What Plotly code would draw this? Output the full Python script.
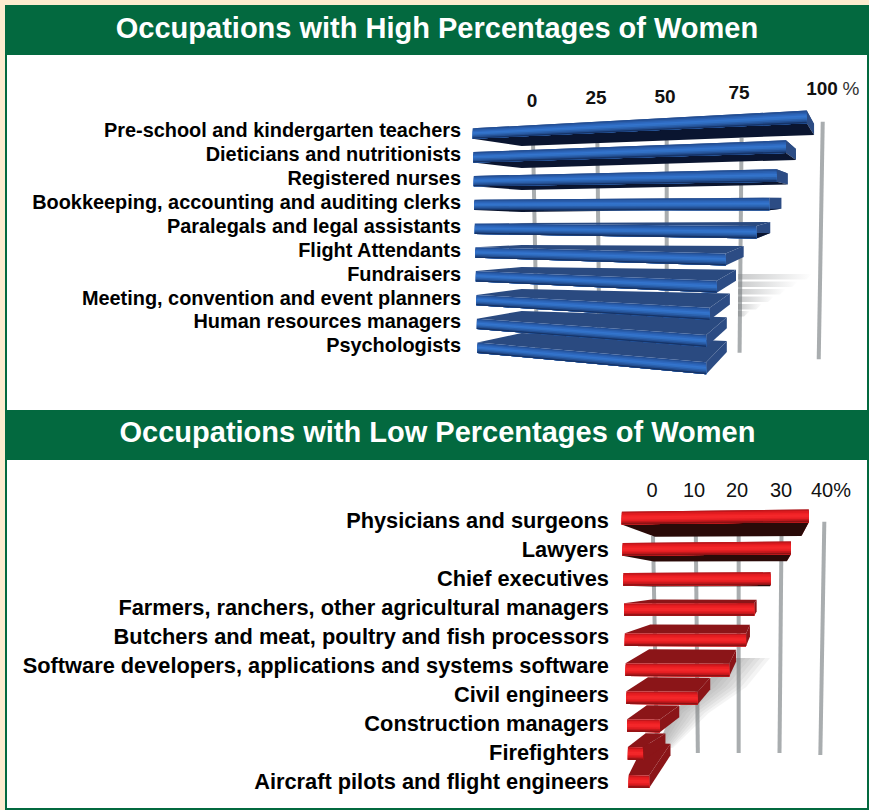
import numpy as np
import plotly.graph_objects as go

# data
high_jobs = ["Pre-school and kindergarten teachers", "Dieticians and nutritionists", "Registered nurses",
             "Bookkeeping, accounting and auditing clerks", "Paralegals and legal assistants", "Flight Attendants",
             "Fundraisers", "Meeting, convention and event planners", "Human resources managers", "Psychologists"]
high_pct = [98, 92.5, 90, 88, 84.5, 76, 73.5, 71.5, 70.5, 70.5]
high_ticks = [0, 25, 50, 75, 100]

low_jobs = ["Physicians and surgeons", "Lawyers", "Chief executives", "Farmers, ranchers, other agricultural managers",
            "Butchers and meat, poultry and fish processors", "Software developers, applications and systems software",
            "Civil engineers", "Construction managers", "Firefighters", "Aircraft pilots and flight engineers"]
low_pct = [35, 31.5, 27.5, 24.3, 22.7, 19.4, 13.2, 5.8, 2.5, 3.7]
low_ticks = [0, 10, 20, 30, 40]

titles = ["Occupations with High Percentages of Women", "Occupations with Low Percentages of Women"]

GREEN = "#03693f"
CREAM = "#fdebce"
FONT = "Liberation Sans"


# perspective for each panel: value + row -> page position
class HighView:
    shade = ["#234f96", "#2a5eac", "#2e69bf", "#3474cc", "#3170c4", "#2b60ac", "#234f92", "#163468"]
    top, cap, under = "#2a4a80", "#2c4c84", "#0a1530"

    def back_x(self, v):
        return 535 + 2.443 * v / (1 - 0.00145 * v)

    def front_x(self, v):
        return self.back_x(v) - 20.67 + 0.4848 * (v - 70.5)

    def left(self, i):
        return 472.7 + 0.52 * i, 521.7

    def front_top(self, i, x):
        return 128.3 + 23.8 * i + (-0.053 + 0.0155 * i) * (x - self.left(i)[0])

    def front_h(self, i, x):
        return 10.4 + 0.007 * (x - self.left(i)[0])

    def back_bottom(self, i, x):
        return 146 + 22 * i + (-0.038 + 0.0085 * i) * (x - self.left(i)[1])

    back_h = 11

    def lean(self, v):
        return 0.04 * (v - 50)


class LowView:
    shade = ["#c2161b", "#e01c20", "#ee2024", "#f4282a", "#f2262a", "#e41e22", "#c4181c", "#8e1214"]
    top, cap, under = "#8b1518", "#8b1518", "#2a0a08"

    def back_x(self, v):
        return 655 + 4.183 * v

    def front_x(self, v):
        return 630.3 + 5.1 * v

    def left(self, i):
        return 621.7 + 0.77 * i, 655 - 1.17 * i

    def front_top(self, i, x):
        return np.interp(i, [0, 1, 5, 9], [511.7, 543, 663.3, 775]) + (-0.012 + 0.0035 * i) * (x - self.left(i)[0])

    def front_h(self, i, x):
        return 12.7

    def back_bottom(self, i, x):
        return np.interp(i, [0, 5, 8, 9], [536.7, 661, 745, 755]) + (-0.005 + 0.002 * i) * (x - self.left(i)[1])

    back_h = 11.7

    def lean(self, v):
        return 0.1 * (v - 20)


fig = go.Figure()


def poly(xs, ys, color, **kw):
    fig.add_trace(go.Scatter(x=xs, y=ys, mode="lines", fill="toself", fillcolor=color, line=dict(width=0),
                             hoverinfo="skip", showlegend=False, **kw))


def grid(view, ticks, top, bottom):
    for t, y0, y1 in zip(ticks, top, bottom):
        bx = view.back_x(t)
        fig.add_trace(go.Scatter(x=[bx + view.lean(t), bx - view.lean(t)], y=[y0, y1], mode="lines",
                                 line=dict(color="#a9adaf", width=4), hoverinfo="skip", showlegend=False))


def stripes(x0, ys, lengths, h):
    # faded stripes behind the lower blue bars
    for y, n in zip(ys, lengths):
        poly([x0, x0 + n, x0 + n - 6, x0], [y, y, y + h, y + h], "rgba(0,0,0,0)",
             fillgradient=dict(type="horizontal", colorscale=[[0, "rgba(125,128,130,0.42)"],
                                                              [1, "rgba(125,128,130,0)"]]))


def soft_shadow(view, vals, rows, ys, widths):
    # stacked see-through layers give the blurred edge
    lefts = [view.back_x(vals[i]) - 8 for i in rows]
    for f in np.linspace(0.2, 1.1, 8):
        xs = lefts + [x + w * f for x, w in zip(lefts, widths)][::-1]
        poly(xs, ys + ys[::-1], "rgba(125,128,132,0.085)")


def bar(view, v, i):
    fl, bl = view.left(i)
    fr, br = view.front_x(v), view.back_x(v)
    ftl, ftr = view.front_top(i, fl), view.front_top(i, fr)
    fbl, fbr = ftl + view.front_h(i, fl), ftr + view.front_h(i, fr)
    bbl, bbr = view.back_bottom(i, bl), view.back_bottom(i, br)
    btl, btr = bbl - view.back_h, bbr - view.back_h
    poly([fl, bl, br, fr], [ftl, btl, btr, ftr], view.top)
    poly([fr, br, br, fr], [ftr, btr, bbr, fbr], view.cap)
    # underside only shows on the rows above eye level
    if bbl > fbl:
        poly([fl, bl, br, fr], [fbl, bbl, bbr, fbr], view.under)
    # front face, painted strip over strip for the metal shading
    n = len(view.shade)
    for k, col in enumerate(view.shade):
        a = k / n
        poly([fl, fr, fr, fl], [ftl + a * (fbl - ftl), ftr + a * (fbr - ftr), fbr, fbl], col)


def labels(xs, ys, texts, size, pos, weight="normal", color="#000000"):
    fig.add_trace(go.Scatter(x=xs, y=ys, text=texts, mode="text", textposition=pos, hoverinfo="skip", showlegend=False,
                             textfont=dict(family=FONT, size=size, color=color, weight=weight)))


high = HighView()
low = LowView()

# top panel
grid(high, high_ticks, [140, 140, 140, 138, 121.7], [350, 350, 350, 352.7, 359.3])
stripes(738, [274, 281.5, 289, 296.5, 304, 311], [74, 60, 48, 36, 24, 12], 5.5)
for i in reversed(range(len(high_pct))):
    bar(high, high_pct[i], i)
labels([461] * 10, [132.3 + 23.9 * i for i in range(10)], high_jobs, 19.9, "middle left", "bold")
labels([532, 596, 665, 739, 822], [102.2, 99.5, 98.2, 94.2, 90], [str(t) for t in high_ticks], 19, "middle center", "bold", "#111111")
labels([851], [90.5], ["%"], 19, "middle center", "normal", "#333333")

# bottom panel
grid(low, low_ticks, [536, 536, 536, 536, 521.7], [753, 753, 753, 753, 755])
soft_shadow(low, low_pct, [5, 6, 7, 8], [658, 687, 713, 748], [38, 40, 34, 14])
for i in reversed(range(len(low_pct))):
    bar(low, low_pct[i], i)
labels([609] * 10, [522.3 + 29 * i for i in range(10)], low_jobs, 21.8, "middle left", "bold")
labels([652, 694, 737, 781, 831], [492] * 5, ["0", "10", "20", "30", "40%"], 20, "middle center", "normal", "#111111")

# header bands
labels([437], [30.5], [titles[0]], 29, "middle center", "bold", "#ffffff")
labels([437.5], [434.5], [titles[1]], 29, "middle center", "bold", "#ffffff")

band = dict(type="rect", layer="below", line_width=0)
fig.update_layout(
    width=869, height=810, margin=dict(l=0, r=0, t=0, b=0), paper_bgcolor=CREAM, plot_bgcolor=CREAM,
    xaxis=dict(range=[0, 869], visible=False, fixedrange=True),
    yaxis=dict(range=[810, 0], visible=False, fixedrange=True),
    shapes=[
        dict(band, x0=5, x1=869, y0=5, y1=810, fillcolor=GREEN),
        dict(band, x0=7, x1=867, y0=55, y1=410, fillcolor="#ffffff"),
        dict(band, x0=7, x1=867, y0=460, y1=808, fillcolor="#ffffff"),
    ],
)

fig.write_html("out.html", config={"displayModeBar": False}, post_script="document.body.style.margin='0';")
